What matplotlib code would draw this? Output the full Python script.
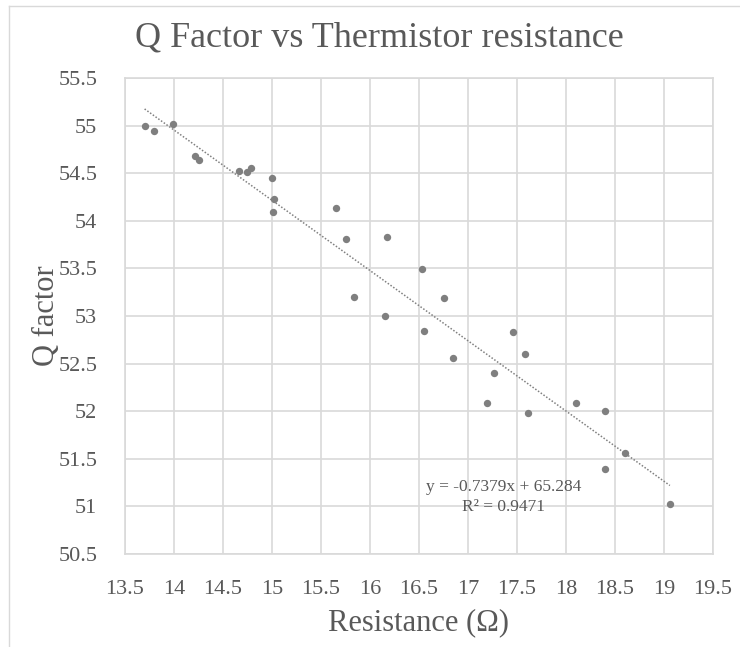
import numpy as np
import matplotlib
matplotlib.use('Agg')
import matplotlib.pyplot as plt
from matplotlib.lines import Line2D

# resistance (ohm) and Q factor
resistance = [13.70, 13.80, 13.99, 14.21, 14.25, 14.66, 14.74, 14.79, 15.00, 15.02,
              15.01, 15.65, 15.75, 16.17, 15.84, 16.15, 16.53, 16.76, 16.55, 16.85,
              17.46, 17.58, 17.27, 17.19, 17.61, 18.10, 18.40, 18.60, 18.40, 19.06]
q_factor = [55.00, 54.94, 55.02, 54.68, 54.64, 54.52, 54.51, 54.55, 54.45, 54.23,
            54.09, 54.13, 53.81, 53.83, 53.20, 53.00, 53.49, 53.19, 52.84, 52.56,
            52.83, 52.60, 52.40, 52.09, 51.98, 52.09, 52.00, 51.56, 51.39, 51.03]

slope = -0.7379
intercept = 65.284
r2 = 0.9471

xticks = [13.5, 14, 14.5, 15, 15.5, 16, 16.5, 17, 17.5, 18, 18.5, 19, 19.5]
yticks = [50.5, 51, 51.5, 52, 52.5, 53, 53.5, 54, 54.5, 55, 55.5]

plt.rcParams['font.family'] = ['Liberation Serif', 'DejaVu Serif']
txt = '#595959'
grid_c = '#d9d9d9'
pt_c = '#7f7f7f'

fig = plt.figure(figsize=(7.4, 6.47), dpi=100)
ax = fig.add_axes([125/740, 1-554/647, (713-125)/740, (554-78)/647])

ax.scatter(resistance, q_factor, s=28, color=pt_c, zorder=3, linewidths=0)

xt = np.array([min(resistance), max(resistance)])
ax.plot(xt, slope*xt + intercept, color='#808080', lw=1.1, ls=(0, (1, 1.2)), zorder=2)

ax.text(17.36, 51.2, 'y = %.4fx + %.3f' % (slope, intercept), ha='center', va='center',
        fontsize=12.5, color=txt)
ax.text(17.36, 50.99, 'R² = %.4f' % r2, ha='center', va='center', fontsize=12.5, color=txt)

ax.set_xlim(13.5, 19.5)
ax.set_ylim(50.5, 55.5)
ax.set_xticks(xticks)
ax.set_yticks(yticks)
ax.set_xticklabels([('%g' % v) for v in xticks])
ax.set_yticklabels([('%g' % v) for v in yticks])
ax.tick_params(axis='x', length=0, labelsize=16, colors=txt, pad=19)
ax.tick_params(axis='y', length=0, labelsize=16, colors=txt, pad=20)
ax.grid(True, color=grid_c, lw=1.2)
ax.set_axisbelow(True)
for s in ax.spines.values():
    s.set_color(grid_c)
    s.set_linewidth(1.2)

ax.set_xlabel('Resistance (Ω)', fontsize=22, color=txt, labelpad=6)
ax.set_ylabel('Q factor', fontsize=22, color=txt, labelpad=-2)
fig.text(0.513, 1-38/647, 'Q Factor vs Thermistor resistance', ha='center', va='center',
         fontsize=26, color=txt)

# outline of the original chart frame (top and left edges)
fig.add_artist(Line2D([9/740, 9/740], [0, 1-6/647], color='#d9d9d9', lw=1, transform=fig.transFigure))
fig.add_artist(Line2D([9/740, 1], [1-6/647, 1-6/647], color='#d9d9d9', lw=1, transform=fig.transFigure))

fig.savefig('out.png', dpi=100)
